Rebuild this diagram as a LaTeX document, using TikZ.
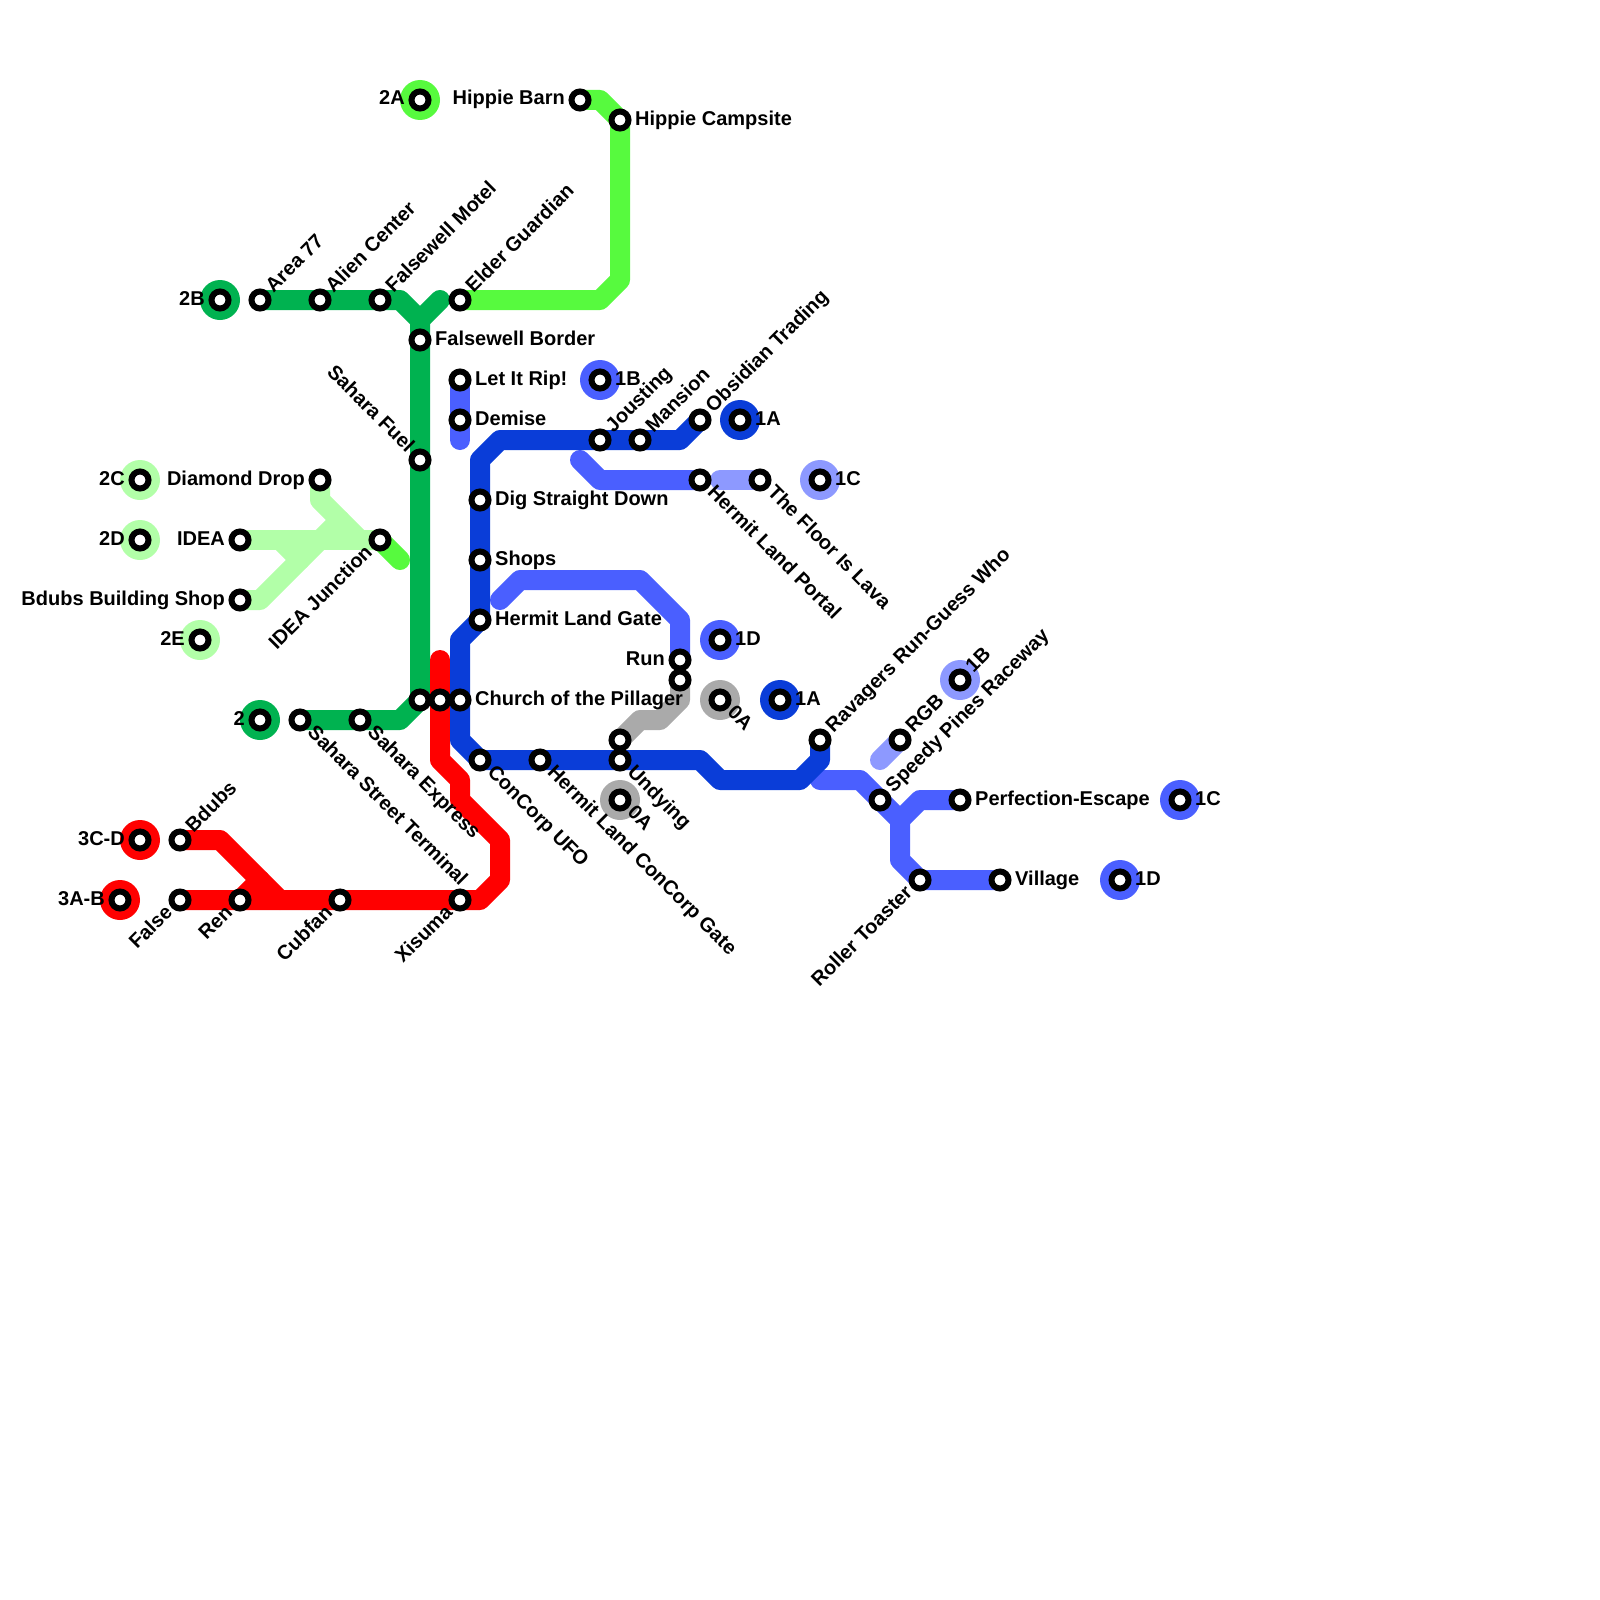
\documentclass[tikz,border=0pt]{standalone}
\usepackage{fontspec}
\setmainfont{Liberation Sans}
\usepackage{xcolor}
\usetikzlibrary{positioning,backgrounds}
\definecolor{lime}{RGB}{87,250,62}
\definecolor{forest}{RGB}{0,178,80}
\definecolor{mint}{RGB}{178,255,168}
\definecolor{scarlet}{RGB}{255,0,0}
\definecolor{royal}{RGB}{10,61,216}
\definecolor{violet}{RGB}{74,95,255}
\definecolor{lilac}{RGB}{141,153,255}
\definecolor{ash}{RGB}{170,170,170}

\begin{document}
\begin{tikzpicture}[x=20pt, y=-20pt,
  track/.style={line width=20pt, line cap=round, line join=round, draw=#1},
  stn/.style={circle, draw=black, line width=6pt, fill=white, minimum size=17pt, inner sep=0pt, outer sep=0pt},
  term/.style={circle, fill=#1, minimum size=40pt, inner sep=0pt, outer sep=0pt},
  lbl/.style={font=\fontsize{20}{22}\selectfont\bfseries, inner sep=0pt, text height=14pt, text depth=4pt},
  lblr/.style={lbl, right=15pt of #1.center},
  lbll/.style={lbl, left=15pt of #1.center},
  lblne/.style={lbl, above right=10pt and 10pt of #1.center, anchor=west, rotate=45},
  lblse/.style={lbl, below right=10pt and 10pt of #1.center, anchor=west, rotate=-45},
  lblnw/.style={lbl, above left=10pt and 10pt of #1.center, anchor=east, rotate=-45},
  lblsw/.style={lbl, below left=10pt and 10pt of #1.center, anchor=east, rotate=45}]
  \useasboundingbox (0,0) rectangle (80,80);

  % terminals
  \node (disc2a) [term=lime] at (21,5) {};
  \node (disc2b) [term=forest] at (11,15) {};
  \node (disc2c) [term=mint] at (7,24) {};
  \node (disc2d) [term=mint] at (7,27) {};
  \node (disc2e) [term=mint] at (10,32) {};
  \node (disc2) [term=forest] at (13,36) {};
  \node (disc3cd) [term=scarlet] at (7,42) {};
  \node (disc3ab) [term=scarlet] at (6,45) {};
  \node (disc1b) [term=violet] at (30,19) {};
  \node (disc1a) [term=royal] at (37,21) {};
  \node (disc1c) [term=lilac] at (41,24) {};
  \node (disc1d) [term=violet] at (36,32) {};
  \node (disc0a) [term=ash] at (36,35) {};
  \node (disc1ab) [term=royal] at (39,35) {};
  \node (disc0ab) [term=ash] at (31,40) {};
  \node (disc1bb) [term=lilac] at (48,34) {};
  \node (disc1cb) [term=violet] at (59,40) {};
  \node (disc1db) [term=violet] at (56,44) {};
  \node (t2a) [stn] at (disc2a) {};
  \node (t2b) [stn] at (disc2b) {};
  \node (t2c) [stn] at (disc2c) {};
  \node (t2d) [stn] at (disc2d) {};
  \node (t2e) [stn] at (disc2e) {};
  \node (t2) [stn] at (disc2) {};
  \node (t3cd) [stn] at (disc3cd) {};
  \node (t3ab) [stn] at (disc3ab) {};
  \node (t1b) [stn] at (disc1b) {};
  \node (t1a) [stn] at (disc1a) {};
  \node (t1c) [stn] at (disc1c) {};
  \node (t1d) [stn] at (disc1d) {};
  \node (t0a) [stn] at (disc0a) {};
  \node (t1ab) [stn] at (disc1ab) {};
  \node (t0ab) [stn] at (disc0ab) {};
  \node (t1bb) [stn] at (disc1bb) {};
  \node (t1cb) [stn] at (disc1cb) {};
  \node (t1db) [stn] at (disc1db) {};

  % stations
  \node (barn) [stn] at (29,5) {};
  \node (camp) [stn] at (31,6) {};
  \node (area) [stn] at (13,15) {};
  \node (alien) [stn] at (16,15) {};
  \node (motel) [stn] at (19,15) {};
  \node (elder) [stn] at (23,15) {};
  \node (border) [stn] at (21,17) {};
  \node (rip) [stn] at (23,19) {};
  \node (demise) [stn] at (23,21) {};
  \node (fuel) [stn] at (21,23) {};
  \node (drop) [stn] at (16,24) {};
  \node (idea) [stn] at (12,27) {};
  \node (junction) [stn] at (19,27) {};
  \node (shop) [stn] at (12,30) {};
  \node (dig) [stn] at (24,25) {};
  \node (shops) [stn] at (24,28) {};
  \node (gate) [stn] at (24,31) {};
  \node (jousting) [stn] at (30,22) {};
  \node (mansion) [stn] at (32,22) {};
  \node (obsidian) [stn] at (35,21) {};
  \node (portal) [stn] at (35,24) {};
  \node (lava) [stn] at (38,24) {};
  \node (run) [stn] at (34,33) {};
  \node (runb) [stn] at (34,34) {};
  \node (sahnorth) [stn] at (21,35) {};
  \node (redmid) [stn] at (22,35) {};
  \node (church) [stn] at (23,35) {};
  \node (terminal) [stn] at (15,36) {};
  \node (express) [stn] at (18,36) {};
  \node (ufo) [stn] at (24,38) {};
  \node (concorp) [stn] at (27,38) {};
  \node (undyingb) [stn] at (31,37) {};
  \node (undying) [stn] at (31,38) {};
  \node (ravagers) [stn] at (41,37) {};
  \node (rgb) [stn] at (45,37) {};
  \node (speedy) [stn] at (44,40) {};
  \node (escape) [stn] at (48,40) {};
  \node (toaster) [stn] at (46,44) {};
  \node (village) [stn] at (50,44) {};
  \node (bdubs) [stn] at (9,42) {};
  \node (false) [stn] at (9,45) {};
  \node (ren) [stn] at (12,45) {};
  \node (cubfan) [stn] at (17,45) {};
  \node (xisuma) [stn] at (23,45) {};

  % free ends
  \coordinate (fwarm) at (22,15);
  \coordinate (jctend) at (20,28);
  \coordinate (ripend) at (23,22);
  \coordinate (portalend) at (29,23);
  \coordinate (lavaend) at (36,24);
  \coordinate (loopend) at (25,30);
  \coordinate (redend) at (22,33);
  \coordinate (rgbend) at (44,38);
  \coordinate (speedend) at (41,39);

  % lines
  \begin{scope}[on background layer]
    \draw[track=lime] (barn.center) -- (30,5) -- (camp.center) -- (31,14) -- (30,15) -- (elder.center);
    \draw[track=lime] (junction.center) -- (jctend);
    \draw[track=forest] (area.center) -- (motel.center) -- (20,15) -- (21,16) -- (border.center) -- (fuel.center) -- (sahnorth.center) -- (20,36) -- (express.center) -- (terminal.center);
    \draw[track=forest] (fwarm) -- (21,16);
    \draw[track=mint] (drop.center) -- (16,25) -- (18,27) -- (junction.center);
    \draw[track=mint] (idea.center) -- (junction.center);
    \draw[track=mint] (14,27) -- (15,28);
    \draw[track=mint] (shop.center) -- (13,30) -- (16,27);
    \draw[track=mint] (16,27) -- (17,26);
    \draw[track=scarlet] (redend) -- (redmid.center) -- (22,38) -- (23,39) -- (23,40) -- (25,42) -- (25,44) -- (24,45) -- (xisuma.center) -- (cubfan.center) -- (ren.center) -- (false.center);
    \draw[track=scarlet] (bdubs.center) -- (11,42) -- (14,45);
    \draw[track=scarlet] (ren.center) -- (13,44);
    \draw[track=violet] (rip.center) -- (demise.center) -- (ripend);
    \draw[track=violet] (portalend) -- (30,24) -- (portal.center);
    \draw[track=lilac] (lavaend) -- (lava.center);
    \draw[track=violet] (loopend) -- (26,29) -- (32,29) -- (34,31) -- (run.center);
    \draw[track=ash] (runb.center) -- (34,35) -- (33,36) -- (32,36) -- (undyingb.center);
    \draw[track=lilac] (rgbend) -- (rgb.center);
    \draw[track=violet] (speedend) -- (43,39) -- (speedy.center) -- (45,41) -- (45,43) -- (toaster.center) -- (village.center);
    \draw[track=violet] (45,41) -- (46,40) -- (escape.center);
    \draw[track=royal] (obsidian.center) -- (34,22) -- (mansion.center) -- (jousting.center) -- (25,22) -- (24,23) -- (dig.center) -- (shops.center) -- (gate.center) -- (23,32) -- (church.center) -- (23,37) -- (ufo.center) -- (concorp.center) -- (undying.center) -- (35,38) -- (36,39) -- (40,39) -- (41,38) -- (ravagers.center);
  \end{scope}

  % labels
  \node (l2a) [lbll=t2a] {2A};
  \node (l2b) [lbll=t2b] {2B};
  \node (l2c) [lbll=t2c] {2C};
  \node (l2d) [lbll=t2d] {2D};
  \node (l2e) [lbll=t2e] {2E};
  \node (l2) [lbll=t2] {2};
  \node (l3cd) [lbll=t3cd] {3C-D};
  \node (l3ab) [lbll=t3ab] {3A-B};
  \node (l1b) [lblr=t1b] {1B};
  \node (l1a) [lblr=t1a] {1A};
  \node (l1c) [lblr=t1c] {1C};
  \node (l1d) [lblr=t1d] {1D};
  \node (l0a) [lblse=t0a] {0A};
  \node (l1ab) [lblr=t1ab] {1A};
  \node (l0ab) [lblse=t0ab] {0A};
  \node (l1bb) [lblne=t1bb] {1B};
  \node (l1cb) [lblr=t1cb] {1C};
  \node (l1db) [lblr=t1db] {1D};

  \node (lbarn) [lbll=barn] {Hippie Barn};
  \node (lcamp) [lblr=camp] {Hippie Campsite};
  \node (larea) [lblne=area] {Area 77};
  \node (lalien) [lblne=alien] {Alien Center};
  \node (lmotel) [lblne=motel] {Falsewell Motel};
  \node (lelder) [lblne=elder] {Elder Guardian};
  \node (lborder) [lblr=border] {Falsewell Border};
  \node (lrip) [lblr=rip] {Let It Rip!};
  \node (ldemise) [lblr=demise] {Demise};
  \node (lfuel) [lblnw=fuel] {Sahara Fuel};
  \node (ldrop) [lbll=drop] {Diamond Drop};
  \node (lidea) [lbll=idea] {IDEA};
  \node (ljunction) [lblsw=junction] {IDEA Junction};
  \node (lshop) [lbll=shop] {Bdubs Building Shop};
  \node (ldig) [lblr=dig] {Dig Straight Down};
  \node (lshops) [lblr=shops] {Shops};
  \node (lgate) [lblr=gate] {Hermit Land Gate};
  \node (ljousting) [lblne=jousting] {Jousting};
  \node (lmansion) [lblne=mansion] {Mansion};
  \node (lobsidian) [lblne=obsidian] {Obsidian Trading};
  \node (lportal) [lblse=portal] {Hermit Land Portal};
  \node (llava) [lblse=lava] {The Floor Is Lava};
  \node (lrun) [lbll=run] {Run};
  \node (lchurch) [lblr=church] {Church of the Pillager};
  \node (lterminal) [lblse=terminal] {Sahara Street Terminal};
  \node (lexpress) [lblse=express] {Sahara Express};
  \node (lufo) [lblse=ufo] {ConCorp UFO};
  \node (lconcorp) [lblse=concorp] {Hermit Land ConCorp Gate};
  \node (lundying) [lblse=undying] {Undying};
  \node (lravagers) [lblne=ravagers] {Ravagers Run-Guess Who};
  \node (lrgb) [lblne=rgb] {RGB};
  \node (lspeedy) [lblne=speedy] {Speedy Pines Raceway};
  \node (lescape) [lblr=escape] {Perfection-Escape};
  \node (ltoaster) [lblsw=toaster] {Roller Toaster};
  \node (lvillage) [lblr=village] {Village};
  \node (lbdubs) [lblne=bdubs] {Bdubs};
  \node (lfalse) [lblsw=false] {False};
  \node (lren) [lblsw=ren] {Ren};
  \node (lcubfan) [lblsw=cubfan] {Cubfan};
  \node (lxisuma) [lblsw=xisuma] {Xisuma};
\end{tikzpicture}
\end{document}
